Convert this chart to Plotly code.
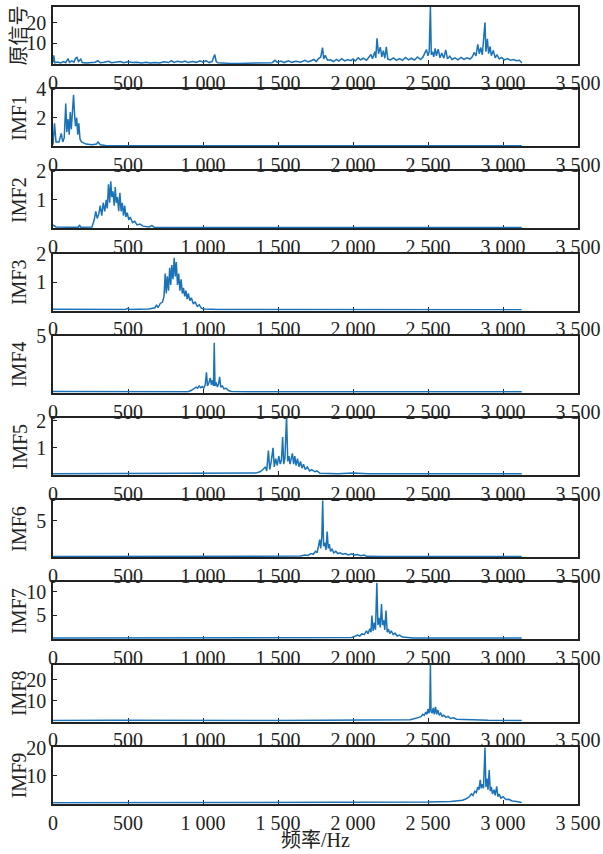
import plotly.graph_objects as go

W, H = 603, 854

x_tickvals = [0, 500, 1000, 1500, 2000, 2500, 3000, 3500]
x_ticktext = ["0", "500", "1 000", "1 500", "2 000", "2 500", "3 000", "3 500"]

panel_names = ["原信号", "IMF1", "IMF2", "IMF3", "IMF4", "IMF5", "IMF6", "IMF7", "IMF8", "IMF9"]
y_tops = [27.7, 4.0, 2.0, 2.0, 5.0, 2.1, 7.8, 11.9, 27.2, 20.3]
y_ticks = [[10, 20], [2, 4], [1, 2], [1, 2], [5], [1, 2], [5], [5, 10], [10, 20], [10, 20]]

orig_spec = [(0,0.8),(5,4.2),(12,0.6),(30,1.0),(50,0.5),(70,1.2),(85,0.6),(100,2.6),(110,0.8),(125,1.5),(140,0.9),(150,2.8),(160,3.2),(170,1.2),(185,2.4),(195,0.7),(220,0.5),(250,0.6),(280,0.9),(300,1.6),(315,0.6),(340,0.8),(370,1.3),(390,0.6),(420,0.9),(450,1.2),(470,0.6),(500,1.1),(530,0.7),(560,0.9),(590,0.5),(620,0.8),(650,0.5),(680,0.7),(710,0.5),(740,1.1),(770,0.7),(790,1.6),(805,0.8),(830,1.3),(860,0.9),(880,1.4),(900,0.7),(930,1.2),(955,0.8),(980,1.5),(1000,0.9),(1020,1.6),(1040,0.7),(1060,1.2),(1078,4.6),(1088,1.2),(1100,0.6),(1130,0.4),(1180,0.3),(1240,0.3),(1300,0.4),(1360,0.3),(1420,0.4),(1460,0.6),(1480,1.8),(1495,0.8),(1520,1.4),(1540,0.7),(1570,1.6),(1590,0.8),(1620,1.3),(1650,0.9),(1680,1.8),(1700,1.0),(1720,1.6),(1740,2.2),(1755,1.2),(1770,2.6),(1785,3.4),(1797,8.0),(1805,2.5),(1815,4.2),(1830,1.8),(1850,2.0),(1870,1.2),(1890,2.2),(1905,1.4),(1925,2.6),(1945,1.5),(1965,2.2),(1985,1.6),(2000,2.4),(2015,1.5),(2035,3.0),(2050,2.0),(2070,2.8),(2090,1.8),(2105,3.2),(2120,4.6),(2130,2.5),(2145,6.0),(2152,3.0),(2160,12.5),(2170,5.0),(2182,8.2),(2192,3.5),(2202,6.5),(2212,2.8),(2222,8.3),(2232,2.4),(2250,2.0),(2270,3.0),(2290,1.8),(2310,2.6),(2330,1.8),(2350,3.2),(2370,2.0),(2390,2.8),(2410,1.9),(2430,3.4),(2450,2.2),(2465,3.2),(2478,5.0),(2490,7.0),(2500,4.0),(2508,6.0),(2516,28),(2522,4.5),(2530,6.0),(2538,3.5),(2548,7.6),(2556,4.0),(2568,7.2),(2580,3.0),(2592,5.4),(2605,2.8),(2618,6.8),(2630,2.5),(2645,3.8),(2660,2.2),(2680,3.0),(2700,2.0),(2720,3.2),(2740,2.2),(2760,3.0),(2780,2.4),(2795,3.5),(2808,5.6),(2820,4.0),(2832,9.5),(2842,5.0),(2852,8.0),(2862,4.5),(2880,20.2),(2886,6.0),(2896,12.2),(2904,5.0),(2914,8.5),(2922,4.0),(2935,6.6),(2948,3.0),(2960,4.5),(2975,2.5),(2990,3.2),(3010,2.0),(3030,2.6),(3050,1.8),(3070,2.2),(3090,1.6),(3110,1.8),(3122,0.8),(3125,0.5)]

imf1_spec = [(0,0.1),(10,1.6),(20,0.3),(40,0.3),(55,0.9),(65,0.3),(75,0.6),(85,3.0),(92,1.0),(100,1.9),(108,0.8),(115,2.4),(122,1.2),(130,2.6),(137,3.6),(144,2.2),(150,1.4),(158,2.0),(165,0.8),(172,1.6),(180,0.5),(190,0.3),(220,0.15),(260,0.1),(290,0.15),(300,0.3),(315,0.1),(350,0.05),(500,0.03),(3125,0.03)]

imf2_spec = [(0,0.12),(20,0.05),(100,0.04),(170,0.04),(176,0.12),(185,0.04),(260,0.05),(275,0.3),(285,0.6),(295,0.35),(305,0.5),(315,0.8),(325,0.45),(335,0.9),(345,0.6),(355,1.0),(362,0.7),(370,1.55),(378,0.9),(385,1.65),(392,1.1),(400,1.3),(408,0.8),(415,1.45),(422,0.9),(430,1.1),(438,0.6),(446,1.25),(454,0.6),(462,0.9),(470,0.45),(478,0.8),(486,0.4),(495,0.55),(505,0.3),(515,0.4),(530,0.2),(545,0.25),(560,0.12),(580,0.15),(600,0.08),(640,0.05),(660,0.1),(675,0.04),(800,0.03),(3125,0.03)]

imf3_spec = [(0,0.05),(300,0.04),(480,0.04),(500,0.08),(510,0.04),(640,0.06),(680,0.1),(690,0.2),(700,0.1),(715,0.25),(730,0.3),(740,0.5),(748,1.3),(755,0.6),(762,1.2),(770,0.7),(778,1.5),(785,0.9),(792,1.6),(800,1.1),(808,1.85),(815,1.2),(822,1.7),(830,0.9),(838,1.3),(846,0.7),(854,1.1),(862,0.6),(870,0.8),(878,0.5),(886,0.7),(894,0.4),(902,0.6),(912,0.35),(922,0.45),(935,0.25),(948,0.3),(962,0.15),(975,0.2),(990,0.08),(1010,0.06),(1100,0.04),(3125,0.03)]

imf4_spec = [(0,0.12),(500,0.1),(900,0.1),(920,0.2),(940,0.35),(955,0.5),(965,0.4),(975,0.6),(985,0.45),(995,0.55),(1005,0.4),(1015,0.7),(1023,1.8),(1030,0.6),(1040,0.9),(1049,1.3),(1056,0.7),(1064,1.1),(1070,0.6),(1075,4.4),(1080,0.6),(1088,0.9),(1096,0.5),(1104,0.8),(1111,1.4),(1118,0.5),(1128,0.6),(1140,0.35),(1155,0.4),(1170,0.2),(1190,0.12),(1300,0.1),(3125,0.1)]

imf5_spec = [(0,0.05),(1000,0.05),(1350,0.07),(1380,0.12),(1400,0.2),(1415,0.3),(1425,0.15),(1436,0.9),(1445,0.2),(1455,0.5),(1467,1.0),(1475,0.3),(1485,0.6),(1495,0.35),(1505,0.7),(1515,0.4),(1523,0.55),(1531,1.4),(1538,0.4),(1546,0.6),(1557,2.15),(1565,0.5),(1573,0.7),(1580,0.4),(1588,0.65),(1596,0.8),(1604,0.4),(1612,0.7),(1620,0.35),(1630,0.6),(1640,0.3),(1650,0.5),(1660,0.25),(1670,0.4),(1682,0.2),(1695,0.3),(1710,0.15),(1725,0.2),(1745,0.12),(1760,0.15),(1780,0.06),(1900,0.05),(2000,0.07),(2100,0.05),(3125,0.05)]

imf6_spec = [(0,0.1),(1500,0.1),(1650,0.15),(1680,0.3),(1700,0.25),(1720,0.5),(1735,0.4),(1750,0.8),(1760,0.6),(1770,1.5),(1778,2.4),(1785,1.2),(1792,2.8),(1798,7.8),(1804,1.5),(1812,2.0),(1820,1.0),(1828,3.5),(1835,1.2),(1842,1.8),(1850,0.8),(1860,1.1),(1872,0.6),(1885,0.8),(1900,0.5),(1915,0.6),(1930,0.4),(1950,0.5),(1970,0.3),(1990,0.45),(2010,0.3),(2030,0.35),(2050,0.2),(2075,0.3),(2090,0.12),(2200,0.1),(3125,0.1)]

imf7_spec = [(0,0.3),(1900,0.3),(1990,0.4),(2010,0.6),(2030,0.9),(2045,0.7),(2060,1.2),(2075,1.0),(2090,1.8),(2100,1.2),(2112,2.2),(2120,1.5),(2126,5.0),(2134,1.8),(2142,3.5),(2150,2.0),(2159,11.8),(2166,3.0),(2174,4.5),(2182,2.5),(2190,7.4),(2197,3.0),(2205,4.0),(2212,2.0),(2220,6.0),(2228,1.5),(2236,2.2),(2245,1.2),(2255,1.8),(2268,1.0),(2280,1.3),(2295,0.7),(2310,0.9),(2330,0.5),(2360,0.4),(2400,0.3),(3125,0.3)]

imf8_spec = [(0,0.5),(150,0.6),(400,0.6),(1500,0.5),(2300,0.6),(2350,0.8),(2380,0.9),(2400,1.2),(2420,1.5),(2440,2.0),(2455,2.5),(2465,3.5),(2475,3.0),(2485,4.5),(2493,3.5),(2500,6.0),(2507,4.0),(2512,6.5),(2516,27.5),(2520,5.0),(2527,4.0),(2535,6.5),(2542,3.5),(2550,7.0),(2558,3.5),(2566,5.5),(2575,3.0),(2585,4.0),(2595,2.5),(2605,3.0),(2620,2.0),(2635,2.5),(2650,1.5),(2670,1.8),(2690,1.1),(2720,1.0),(2760,0.8),(2800,0.7),(2900,0.6),(3125,0.5)]

imf9_spec = [(0,0.4),(130,0.4),(140,0.6),(2500,0.6),(2650,0.8),(2700,1.0),(2730,1.3),(2755,1.8),(2775,2.5),(2790,3.5),(2800,3.0),(2812,4.5),(2822,4.0),(2832,6.0),(2840,5.0),(2848,8.5),(2855,5.5),(2862,7.0),(2870,5.5),(2880,20.0),(2886,6.0),(2893,9.0),(2900,5.0),(2908,12.0),(2915,4.5),(2922,6.0),(2930,3.5),(2940,5.0),(2948,3.0),(2958,6.2),(2966,2.5),(2975,3.5),(2985,2.0),(3000,2.5),(3020,1.5),(3040,1.6),(3060,1.0),(3080,0.9),(3100,0.7),(3125,0.5)]

spectra = [orig_spec, imf1_spec, imf2_spec, imf3_spec, imf4_spec,
           imf5_spec, imf6_spec, imf7_spec, imf8_spec, imf9_spec]

LINE = "#1a72b8"
SERIF = "Liberation Serif, Times New Roman, Noto Sans CJK SC, serif"
MIXED = "Liberation Serif, Noto Sans CJK SC, serif"
FS = 20

left_px, right_px = 53, 578
top0, pitch, ph = 7, 82.2, 57

fig = go.Figure()
annotations = []
for i, (name, spec) in enumerate(zip(panel_names, spectra)):
    n = i + 1
    xs = [p[0] for p in spec]
    ys = [p[1] for p in spec]
    xa = "x" if n == 1 else f"x{n}"
    ya = "y" if n == 1 else f"y{n}"
    fig.add_trace(go.Scatter(x=xs, y=ys, mode="lines", xaxis=xa, yaxis=ya,
                             line=dict(color=LINE, width=1.5), showlegend=False,
                             hoverinfo="skip"))
    top = top0 + pitch * i
    bot = top + ph
    ydom = [1 - bot / H, 1 - top / H]
    xkey = "xaxis" if n == 1 else f"xaxis{n}"
    ykey = "yaxis" if n == 1 else f"yaxis{n}"
    fig.update_layout(**{
        xkey: dict(domain=[left_px / W, right_px / W], anchor=ya, range=[0, 3500],
                   tickvals=x_tickvals, ticktext=x_ticktext, ticks="inside",
                   ticklen=4, tickwidth=1, tickcolor="#222", automargin=False,
                   showline=True, linecolor="#222", linewidth=1.5, mirror=True,
                   showgrid=False, zeroline=False, layer="below traces",
                   tickfont=dict(family=SERIF, size=FS, color="#222")),
        ykey: dict(domain=ydom, anchor=xa, range=[0, y_tops[i]],
                   tickvals=y_ticks[i], ticktext=[str(v) for v in y_ticks[i]],
                   ticks="inside", ticklen=4, tickwidth=1, tickcolor="#222",
                   automargin=False, ticklabelstandoff=1,
                   showline=True, linecolor="#222", linewidth=1.5, mirror=True,
                   showgrid=False, zeroline=False, layer="below traces",
                   tickfont=dict(family=SERIF, size=FS, color="#222")),
    })
    annotations.append(dict(text=name, x=19 / W, y=1 - (top + ph / 2) / H,
                            xref="paper", yref="paper", showarrow=False,
                            textangle=-90, xanchor="center", yanchor="middle",
                            font=dict(family=MIXED, size=FS, color="#222")))

annotations.append(dict(text="频率/Hz", x=(left_px + right_px) / 2 / W, y=1 - 840 / H,
                        xref="paper", yref="paper", showarrow=False,
                        xanchor="center", yanchor="middle",
                        font=dict(family=MIXED, size=FS, color="#222")))

fig.update_layout(width=W, height=H, margin=dict(l=0, r=0, t=0, b=0, autoexpand=False),
                  paper_bgcolor="white", plot_bgcolor="white",
                  annotations=annotations)

fig.write_html("out.html", config={"displayModeBar": False},
               post_script="document.body.style.margin='0';document.body.style.overflow='hidden';")
